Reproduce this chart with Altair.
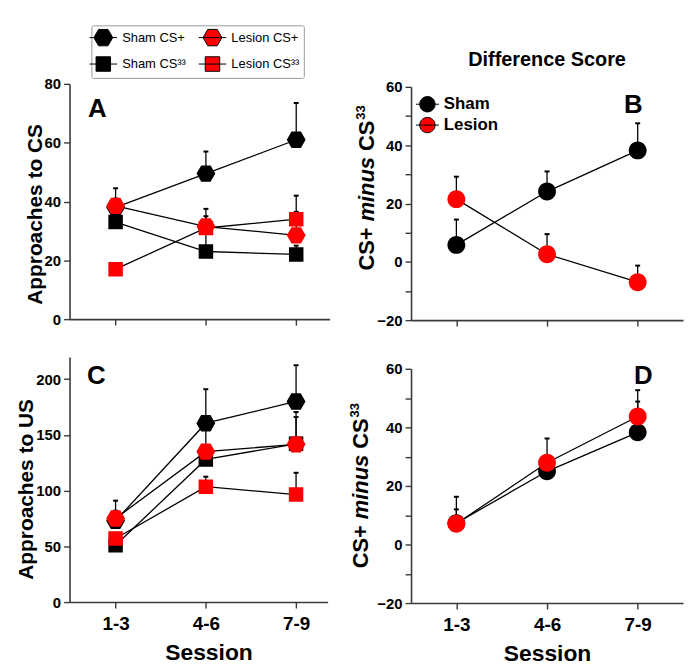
import json
import altair as alt
import pandas as pd

# ---------------- data ----------------
SESSIONS = ["1-3", "4-6", "7-9"]
SESSION_IDX = [1, 2, 3]

A_NAMES = ["Sham CS+", "Sham CS³³", "Lesion CS+", "Lesion CS³³"]
A_SHAM_CSP = [38.0, 49.5, 61.0]
A_SHAM_CSP_HI = [44.5, 57.0, 73.5]
A_LES_CSP = [38.5, 31.5, 28.5]
A_LES_CSP_HI = [41.0, 37.5, 36.5]
A_SHAM_CS33 = [33.0, 23.0, 22.0]
A_SHAM_CS33_HI = [36.0, 29.0, 25.0]
A_LES_CS33 = [17.0, 31.0, 34.0]
A_LES_CS33_HI = [19.0, 35.0, 42.0]

B_NAMES = ["Sham", "Lesion"]
B_SHAM = [5.8, 24.1, 38.2]
B_SHAM_HI = [14.5, 31.0, 47.5]
B_LES = [21.5, 2.6, -7.0]
B_LES_HI = [29.2, 9.5, -1.3]

C_SHAM_CSP = [73.0, 160.5, 180.0]
C_SHAM_CSP_HI = [91.0, 191.0, 212.5]
C_LES_CSP = [75.0, 135.0, 141.5]
C_LES_CSP_HI = [82.0, 155.0, 170.5]
C_SHAM_CS33 = [51.0, 128.0, 142.0]
C_SHAM_CS33_HI = [55.0, 140.0, 166.0]
C_LES_CS33 = [57.0, 103.5, 96.5]
C_LES_CS33_HI = [62.0, 112.5, 116.0]

D_SHAM = [7.3, 25.0, 38.3]
D_SHAM_HI = [12.0, 30.0, 48.8]
D_LES = [7.1, 27.9, 43.7]
D_LES_HI = [16.3, 36.2, 52.7]

# ---------------- style ----------------
FONT = "Liberation Sans"
RED = "#ff0000"
BLACK = "#000000"
HEX = "M-1.9,0H1.9M-1.3,0L-0.65,-1.13L0.65,-1.13L1.3,0L0.65,1.13L-0.65,1.13Z"
SQR = "M-1.9,0H1.9M-1,-1H1V1H-1Z"
CIRC = "M-1.5,0H1.5M-1,0A1,1 0 1,0 1,0A1,1 0 1,0 -1,0Z"
LABEL_EXPR = json.dumps(SESSIONS) + "[datum.value - 1]"


def frame(series_list):
    rows = []
    for name, vals, his in series_list:
        for s, v, h in zip(SESSION_IDX, vals, his):
            rows.append({"s": s, "series": name, "y": v, "hi": h})
    return pd.DataFrame(rows)


def text_mark(txt, x, y, size, **kw):
    props = dict(text=txt, font=FONT, fontWeight="bold", fontSize=size,
                 align="center", baseline="middle", color="black")
    props.update(kw)
    return alt.Chart(alt.Data(values=[{}])).mark_text(**props).encode(
        x=alt.value(x), y=alt.value(y))


def diff_title(x0, y0, fs=22):
    w_csp = 1.973 * fs
    w_sp = 0.278 * fs
    w_minus = 2.945 * fs
    w_cs = 1.389 * fs
    y1 = y0 - w_csp - w_sp
    y2 = y1 - w_minus - w_sp
    y3 = y2 - w_cs
    common = dict(align="left", baseline="alphabetic", angle=270)
    return [
        text_mark("CS+", x0, y0, fs, **common),
        text_mark("minus", x0, y1, fs, fontStyle="italic", **common),
        text_mark("CS", x0, y2, fs, **common),
        text_mark("33", x0 - 9, y3 - 1, 13, **common),
    ]


def panel(df, names, colors, shapes, size, ydom, yvals, minor, w, h, xdom,
          bottom, legend, ytitle=None, ytitle_y=None, session_x=None,
          title=None, extra=(), yrange=None):
    yk = dict(values=yvals)
    if minor:
        yk["labelExpr"] = "datum.value % 20 === 0 ? datum.label : ''"
    if ytitle:
        yk["title"] = ytitle
        yk["titleY"] = ytitle_y
    else:
        yk["title"] = None
    xk = dict(values=SESSION_IDX, labelExpr=LABEL_EXPR)
    if bottom:
        xk["title"] = "Session"
        if session_x is not None:
            xk["titleX"] = session_x
    else:
        xk["labels"] = False
        xk["title"] = None
    xs = alt.Scale(domain=xdom, nice=False, zero=False)
    if yrange is not None:
        ys = alt.Scale(domain=ydom, nice=False, zero=False, range=yrange)
    else:
        ys = alt.Scale(domain=ydom, nice=False, zero=False)
    X = alt.X("s:Q", scale=xs, axis=alt.Axis(**xk))
    Y = alt.Y("y:Q", scale=ys, axis=alt.Axis(**yk))
    YH = alt.Y("hi:Q", scale=ys, axis=alt.Axis(**yk))
    base = alt.Chart(df)
    err = base.mark_rule(color="black", strokeWidth=1.3).encode(x=X, y=Y, y2="hi:Q")
    cap = base.mark_rule(color="black", strokeWidth=2, xOffset=-2.5, x2Offset=2.5).encode(
        x=X, x2="s:Q", y=YH)
    line = base.mark_line(color="black", strokeWidth=1.3).encode(x=X, y=Y, detail="series:N")
    pts = base.mark_point(filled=True, size=size, opacity=1, strokeWidth=0).encode(
        x=X, y=Y,
        color=alt.Color("series:N", scale=alt.Scale(domain=names, range=colors), legend=legend),
        shape=alt.Shape("series:N", scale=alt.Scale(domain=names, range=shapes), legend=legend),
    )
    props = dict(width=w, height=h)
    if title is not None:
        props["title"] = title
    return alt.layer(err, cap, line, pts, *extra).properties(**props)


# ---------------- frames ----------------
dfA = frame([
    ("Sham CS³³", A_SHAM_CS33, A_SHAM_CS33_HI),
    ("Sham CS+", A_SHAM_CSP, A_SHAM_CSP_HI),
    ("Lesion CS³³", A_LES_CS33, A_LES_CS33_HI),
    ("Lesion CS+", A_LES_CSP, A_LES_CSP_HI),
])
dfC = frame([
    ("Sham CS³³", C_SHAM_CS33, C_SHAM_CS33_HI),
    ("Sham CS+", C_SHAM_CSP, C_SHAM_CSP_HI),
    ("Lesion CS³³", C_LES_CS33, C_LES_CS33_HI),
    ("Lesion CS+", C_LES_CSP, C_LES_CSP_HI),
])
dfB = frame([("Sham", B_SHAM, B_SHAM_HI), ("Lesion", B_LES, B_LES_HI)])
dfD = frame([("Sham", D_SHAM, D_SHAM_HI), ("Lesion", D_LES, D_LES_HI)])

A_COLORS = [BLACK, BLACK, RED, RED]
A_SHAPES = [HEX, SQR, HEX, SQR]

legA = alt.Legend(orient="none", legendX=22, legendY=-59, title=None, columns=2,
                  padding=4, rowPadding=6, columnPadding=10, labelFont=FONT,
                  labelFontSize=13, labelFontWeight="normal", labelColor="black",
                  labelOffset=11, symbolSize=213, strokeColor="#9a9a9a",
                  fillColor="white", symbolStrokeColor="black", symbolStrokeWidth=1,
                  cornerRadius=2)
legB = alt.Legend(orient="none", legendX=8, legendY=12, title=None, padding=0,
                  rowPadding=0, labelFont=FONT, labelFontSize=17, labelFontWeight="bold",
                  labelColor="black", labelOffset=8, symbolSize=240,
                  symbolStrokeColor="black", symbolStrokeWidth=1)

chartA = panel(dfA, A_NAMES, A_COLORS, A_SHAPES, 213, [0, 80], [0, 20, 40, 60, 80], False,
               262, 237, [0.49, 3.37], False, legA, ytitle="Approaches to CS", ytitle_y=131,
               extra=[text_mark("A", 28, 25, 26)])
chartC = panel(dfC, A_NAMES, A_COLORS, A_SHAPES, 213, [0, 220], [0, 50, 100, 150, 200], False,
               260, 247, [0.49, 3.35], True, None, ytitle="Approaches to US", ytitle_y=133,
               session_x=140, extra=[text_mark("C", 27, 19, 26)])
chartB = panel(dfB, B_NAMES, [BLACK, RED], [CIRC, CIRC], 324, [-20, 60],
               list(range(-20, 61, 10)), True, 274, 238, [0.5, 3.5], False, legB,
               title=alt.TitleParams("Difference Score", font=FONT, fontSize=20,
                                     fontWeight="bold", offset=10, color="black"),
               extra=[text_mark("B", 224, 21, 26)] + diff_title(-37, 188),
               yrange=[238, 3])
chartD = panel(dfD, B_NAMES, [BLACK, RED], [CIRC, CIRC], 324, [-20, 60],
               list(range(-20, 61, 10)), True, 274, 248, [0.5, 3.5], True, None,
               extra=[text_mark("D", 234, 19, 26)] + diff_title(-43, 213),
               yrange=[248, 12])

chart = alt.concat(chartA, chartB, chartC, chartD, columns=2,
                   spacing={"row": 37, "column": 82}, bounds="flush").resolve_scale(
    color="independent", shape="independent"
).properties(
    padding={"left": 7, "top": 14, "right": 5, "bottom": 5},
    background="white",
).configure_view(strokeWidth=0).configure_axis(
    domainColor="#3a3a3a", domainWidth=1.6, tickColor="#3a3a3a", tickWidth=1.4,
    tickSize=6, grid=False, labelFont=FONT, labelFontWeight="bold", labelColor="black",
    titleFont=FONT, titleFontWeight="bold", titleColor="black",
).configure_axisX(
    labelFontSize=19, titleFontSize=23, labelPadding=7, titlePadding=8,
).configure_axisY(
    labelFontSize=15, titleFontSize=21, labelPadding=3, titlePadding=-1,
)

chart.save("out.html", embed_options={"renderer": "svg", "actions": False})
